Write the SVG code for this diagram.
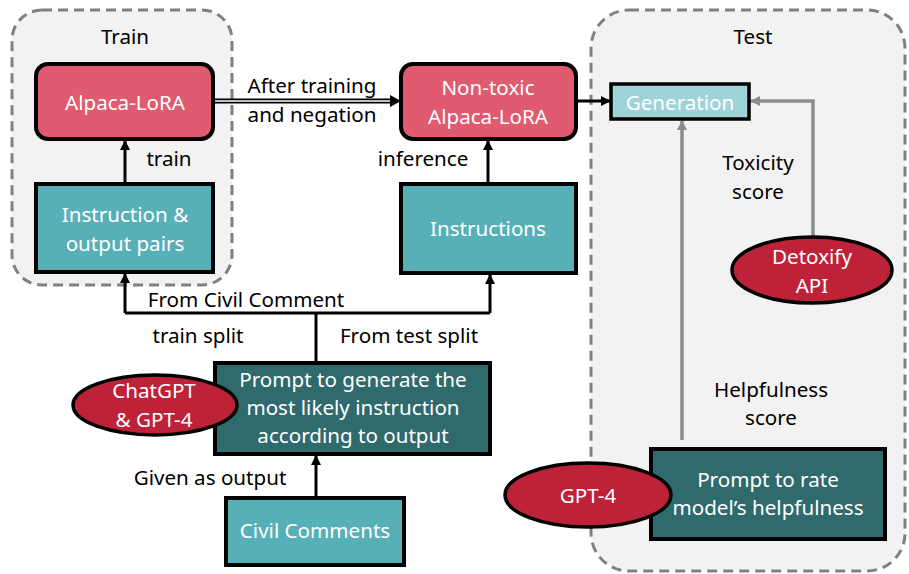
<svg xmlns="http://www.w3.org/2000/svg" width="909" height="574" viewBox="0 0 909 574">
<defs>
<marker id="ah" markerWidth="10" markerHeight="10" refX="9" refY="5" orient="auto" markerUnits="userSpaceOnUse"><path d="M0,0 L10,5 L0,10 Z" fill="#000"/></marker>
<marker id="ahg" markerWidth="10" markerHeight="10" refX="9" refY="5" orient="auto" markerUnits="userSpaceOnUse"><path d="M0,0 L10,5 L0,10 Z" fill="#8c8c8c"/></marker>
<style>
text{font-family:"Noto Sans","Open Sans","DejaVu Sans",sans-serif;font-size:20.6px;text-anchor:middle}
.w{fill:#fff}
.k{fill:#000}
.grp{fill:#f2f2f2;stroke:#808080;stroke-width:3;stroke-dasharray:10 6}
.pink{fill:#e05b6f;stroke:#000;stroke-width:4}
.teal{fill:#57b0b8;stroke:#000;stroke-width:4}
.lteal{fill:#9ed3d8;stroke:#000;stroke-width:3.5}
.dteal{fill:#2f6a6d;stroke:#000;stroke-width:4}
.red{fill:#be2239;stroke:#000;stroke-width:3.5}
.c{fill:none;stroke:#000;stroke-width:3}
.g{fill:none;stroke:#8c8c8c;stroke-width:3.5}
</style>
</defs>
<rect width="909" height="574" fill="#fff"/>
<g id="train-group"><rect class="grp" x="12" y="10" width="220" height="275" rx="30"/><text class="k" x="125" y="44">Train</text></g>
<g id="test-group"><rect class="grp" x="591" y="10" width="314" height="561" rx="38"/><text class="k" x="753" y="44">Test</text></g>
<g id="connectors">
<line x1="213" y1="101" x2="392" y2="101" stroke="#000" stroke-width="5"/>
<line x1="213" y1="101" x2="392" y2="101" stroke="#fff" stroke-width="1.6"/>
<path d="M390,95 L401,101 L390,107 Z" fill="#000"/>
<line class="c" x1="125" y1="184" x2="125" y2="141" marker-end="url(#ah)"/>
<line class="c" x1="488" y1="184" x2="488" y2="141" marker-end="url(#ah)"/>
<line class="c" x1="576" y1="101" x2="610" y2="101" marker-end="url(#ah)"/>
<path class="g" d="M813,237 V101 H751" marker-end="url(#ahg)"/>
<line class="g" x1="682" y1="440" x2="682" y2="121" marker-end="url(#ahg)"/>
<path class="c" d="M316,363 V313"/>
<path class="c" d="M125,313 H490" />
<line class="c" x1="125" y1="313" x2="125" y2="274" marker-end="url(#ah)"/>
<line class="c" x1="490" y1="313" x2="490" y2="275" marker-end="url(#ah)"/>
<line class="c" x1="316" y1="498" x2="316" y2="456" marker-end="url(#ah)"/>
<text class="k" x="312" y="93">After training</text>
<text class="k" x="312" y="122">and negation</text>
<text class="k" x="169" y="166">train</text>
<text class="k" x="423" y="166">inference</text>
<text class="k" x="758" y="170">Toxicity</text>
<text class="k" x="758" y="199">score</text>
<text class="k" x="771" y="397">Helpfulness</text>
<text class="k" x="771" y="425">score</text>
<text class="k" x="246" y="307">From Civil Comment</text>
<text class="k" x="198" y="343">train split</text>
<text class="k" x="409" y="343">From test split</text>
<text class="k" x="210" y="485">Given as output</text>
</g>
<g id="alpaca"><rect class="pink" x="36" y="64" width="177" height="75" rx="12"/><text class="w" x="125" y="110">Alpaca-LoRA</text></g>
<g id="pairs"><rect class="teal" x="36" y="184" width="177" height="88"/><text class="w" x="125" y="222">Instruction &amp;</text><text class="w" x="125" y="251">output pairs</text></g>
<g id="nontoxic"><rect class="pink" x="401" y="64" width="175" height="75" rx="12"/><text class="w" x="488" y="95">Non-toxic</text><text class="w" x="488" y="124">Alpaca-LoRA</text></g>
<g id="instructions"><rect class="teal" x="401" y="184" width="175" height="89"/><text class="w" x="488" y="236">Instructions</text></g>
<g id="generation"><rect class="lteal" x="611" y="84" width="138" height="35"/><text class="w" x="680" y="110">Generation</text></g>
<g id="detoxify"><ellipse class="red" cx="812" cy="270" rx="80" ry="33"/><text class="w" x="812" y="264">Detoxify</text><text class="w" x="812" y="293">API</text></g>
<g id="prompt-gen"><rect class="dteal" x="215" y="363" width="275" height="91"/><text class="w" x="353" y="387">Prompt to generate the</text><text class="w" x="353" y="415">most likely instruction</text><text class="w" x="353" y="443">according to output</text></g>
<g id="chatgpt"><ellipse class="red" cx="155" cy="405" rx="82" ry="30"/><text class="w" x="154" y="398">ChatGPT</text><text class="w" x="154" y="427">&amp; GPT-4</text></g>
<g id="civil"><rect class="teal" x="226" y="498" width="178" height="67"/><text class="w" x="315" y="538">Civil Comments</text></g>
<g id="prompt-rate"><rect class="dteal" x="651" y="449" width="234" height="90"/><text class="w" x="768" y="487">Prompt to rate</text><text class="w" x="768" y="515">model’s helpfulness</text></g>
<g id="gpt4"><ellipse class="red" cx="588" cy="495" rx="83" ry="32"/><text class="w" x="588" y="503">GPT-4</text></g>
</svg>
